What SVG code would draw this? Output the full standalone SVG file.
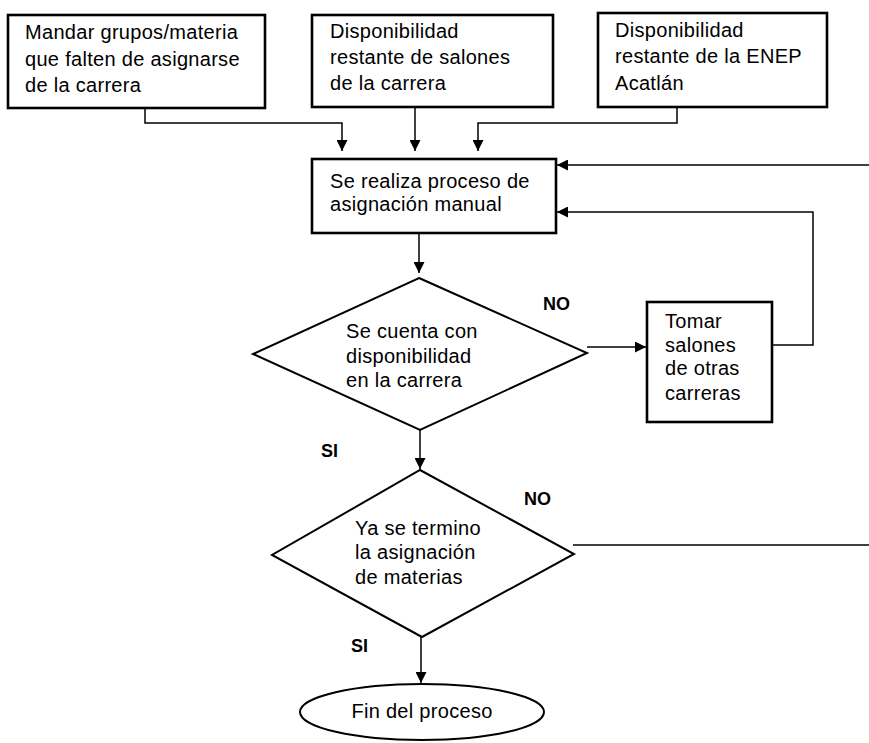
<svg xmlns="http://www.w3.org/2000/svg" width="869" height="743" viewBox="0 0 869 743">
<style>
  .box { fill: #fff; stroke: #000; stroke-width: 2.6; }
  .shape { fill: #fff; stroke: #000; stroke-width: 2; }
  .conn { fill: none; stroke: #000; stroke-width: 1.5; }
  .t { font-family: "Liberation Sans", Arial, sans-serif; font-size: 20px; letter-spacing: 0.3px; fill: #000; }
  .lbl { font-family: "Liberation Sans", Arial, sans-serif; font-size: 18px; font-weight: bold; fill: #000; }
</style>
<defs>
  <marker id="arr" viewBox="0 0 12 12" refX="12" refY="6" markerWidth="11" markerHeight="11" markerUnits="userSpaceOnUse" orient="auto">
    <path d="M0,0 L12,6 L0,12 z" fill="#000"/>
  </marker>
</defs>
<rect width="869" height="743" fill="#fff"/>

<g id="connectors">
  <path class="conn" d="M145,108 V123 H342 V151" marker-end="url(#arr)"/>
  <path class="conn" d="M415,107 V151" marker-end="url(#arr)"/>
  <path class="conn" d="M677,107 V123 H478 V151" marker-end="url(#arr)"/>
  <path class="conn" d="M869,165 H557" marker-end="url(#arr)"/>
  <path class="conn" d="M772,345 H813 V212 H557" marker-end="url(#arr)"/>
  <path class="conn" d="M419,233 V273" marker-end="url(#arr)"/>
  <path class="conn" d="M587,347 H646" marker-end="url(#arr)"/>
  <path class="conn" d="M420,430 V469" marker-end="url(#arr)"/>
  <path class="conn" d="M573,545 H869"/>
  <path class="conn" d="M421,637 V683" marker-end="url(#arr)"/>
  <text class="lbl" x="543" y="310">NO</text>
  <text class="lbl" x="321" y="457">SI</text>
  <text class="lbl" x="524" y="505">NO</text>
  <text class="lbl" x="351" y="652">SI</text>
</g>

<g id="box1">
  <rect class="box" x="8" y="15" width="257" height="93"/>
  <text class="t" x="25" y="39">Mandar grupos/materia</text>
  <text class="t" x="25" y="66">que falten de asignarse</text>
  <text class="t" x="25" y="92">de la carrera</text>
</g>

<g id="box2">
  <rect class="box" x="312" y="15" width="241" height="92"/>
  <text class="t" x="330" y="38">Disponibilidad</text>
  <text class="t" x="330" y="64">restante de salones</text>
  <text class="t" x="330" y="90">de la carrera</text>
</g>

<g id="box3">
  <rect class="box" x="598" y="13" width="229" height="94"/>
  <text class="t" x="615" y="37">Disponibilidad</text>
  <text class="t" x="615" y="63">restante de la ENEP</text>
  <text class="t" x="615" y="90">Acatlán</text>
</g>

<g id="process">
  <rect class="box" x="312" y="159" width="244" height="74"/>
  <text class="t" x="330" y="188">Se realiza proceso de</text>
  <text class="t" x="330" y="211">asignación manual</text>
</g>

<g id="decision1">
  <polygon class="shape" points="419,278 587,353 420,430 253,354"/>
  <text class="t" x="346" y="338">Se cuenta con</text>
  <text class="t" x="346" y="363">disponibilidad</text>
  <text class="t" x="346" y="387">en la carrera</text>
</g>

<g id="tomar">
  <rect class="box" x="647" y="302" width="125" height="120"/>
  <text class="t" x="665" y="328">Tomar</text>
  <text class="t" x="665" y="352">salones</text>
  <text class="t" x="665" y="375">de otras</text>
  <text class="t" x="665" y="400">carreras</text>
</g>

<g id="decision2">
  <polygon class="shape" points="420,470 574,554 422,637 272,555"/>
  <text class="t" x="355" y="535">Ya se termino</text>
  <text class="t" x="355" y="559">la asignación</text>
  <text class="t" x="355" y="584">de materias</text>
</g>

<g id="fin">
  <ellipse class="shape" cx="422" cy="712" rx="122" ry="28"/>
  <text class="t" x="422" y="718" text-anchor="middle">Fin del proceso</text>
</g>
</svg>
